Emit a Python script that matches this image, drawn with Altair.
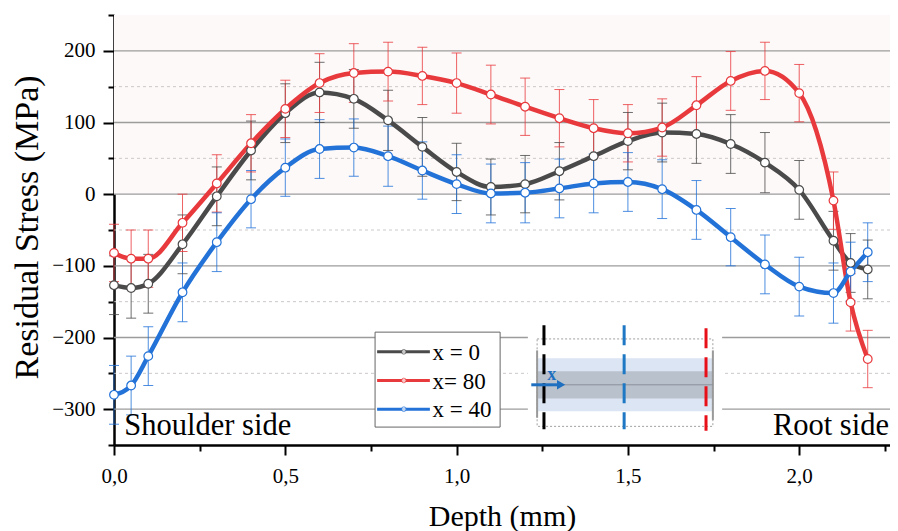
import altair as alt
import pandas as pd

# ---------------- data ----------------
depth = [0.0, 0.05, 0.1, 0.2, 0.3, 0.4, 0.5, 0.6, 0.7, 0.8, 0.9, 1.0, 1.1, 1.2,
         1.3, 1.4, 1.5, 1.6, 1.7, 1.8, 1.9, 2.0, 2.1, 2.15, 2.2]
stress_x0 = [-127, -131, -125, -70, -3, 61, 113, 142, 133, 103, 66, 31, 10, 14,
             32, 53, 74, 86, 84, 70, 44, 6, -65, -96, -105]
stress_x80 = [-82, -90, -90, -40, 15, 71, 119, 155, 169, 171, 165, 155, 139, 122,
              106, 92, 85, 93, 124, 158, 172, 141, -9, -151, -230]
stress_x40 = [-280, -267, -226, -137, -67, -7, 37, 63, 65, 53, 33, 14, 1, 2,
              8, 15, 17, 7, -22, -60, -98, -129, -138, -108, -81]
err_x0 = [41, 42, 41, 41, 41, 41, 41, 42, 41, 42, 41, 40, 39, 40,
          40, 40, 40, 41, 41, 41, 42, 41, 41, 41, 41]
err_x80 = [40, 40, 40, 40, 40, 40, 40, 41, 41, 41, 40, 42, 41, 40,
           40, 40, 40, 40, 40, 41, 40, 40, 40, 40, 40]
err_x40 = [41, 41, 41, 41, 41, 40, 40, 41, 40, 42, 40, 41, 41, 42,
           41, 41, 41, 41, 41, 40, 41, 41, 42, 41, 41]

series_names = ["x = 0", "x= 80", "x = 40"]
series_colors = ["#4a4a4a", "#e8393d", "#2272d8"]
err_colors = ["#858585", "#eb959a", "#8fb2e2"]

x_ticks = [0.0, 0.25, 0.5, 0.75, 1.0, 1.25, 1.5, 1.75, 2.0, 2.25]
y_ticks = [-350, -300, -250, -200, -150, -100, -50, 0, 50, 100, 150, 200, 250]
grid_major = [-300, -200, -100, 0, 100, 200]
grid_minor = [-250, -150, -50, 50, 150]

# ---------------- layout (positions in data units) ----------------
X_DOMAIN = [0, 2.265]
Y_DOMAIN = [-350, 250]
FONT = "Liberation Serif"

rows = []
for name, vals, errs in zip(series_names, [stress_x0, stress_x80, stress_x40],
                            [err_x0, err_x80, err_x40]):
    for d, v, e in zip(depth, vals, errs):
        rows.append({"depth": d, "stress": v, "lo": v - e, "hi": v + e, "series": name})
df = pd.DataFrame(rows)

xs = alt.Scale(domain=X_DOMAIN, nice=False, zero=False)
ys = alt.Scale(domain=Y_DOMAIN, nice=False, zero=False)

x_axis = alt.Axis(
    values=x_ticks,
    labelExpr="datum.value % 0.5 === 0 ? replace(format(datum.value, '.1f'), '.', ',') : ''",
    tickSize={"condition": {"test": "datum.value % 0.5 === 0", "value": 10}, "value": 6},
    title="Depth (mm)", grid=False, domainColor="black", domainWidth=2.5,
    tickColor="black", tickWidth=2, labelFont=FONT, labelFontSize=21,
    labelColor="black", labelPadding=10, labelFlush=False,
    titleFont=FONT, titleFontSize=30, titleFontWeight="normal",
    titleColor="black", titlePadding=15,
)
y_axis = alt.Axis(
    values=y_ticks,
    labelExpr="(datum.value % 100 === 0 && datum.value >= -300 && datum.value <= 200) ? replace(format(datum.value, 'd'), '-', '\u2212') : ''",
    tickSize={"condition": {"test": "datum.value % 100 === 0", "value": 11}, "value": 6},
    title="Residual Stress (MPa)", grid=False, domainColor="black", domainWidth=2.5,
    tickColor="black", tickWidth=2, labelFont=FONT, labelFontSize=21,
    labelColor="black", labelPadding=8, labelFlush=False,
    titleFont=FONT, titleFontSize=34, titleFontWeight="normal",
    titleColor="black", titlePadding=7, titleY=212,
)


def X(field):
    return alt.X(field, type="quantitative", scale=xs, axis=x_axis)


def Y(field):
    return alt.Y(field, type="quantitative", scale=ys, axis=y_axis)


color_scale = alt.Scale(domain=series_names, range=series_colors)
err_scale = alt.Scale(domain=series_names, range=err_colors)

# background tint above zero
pink = alt.Chart(pd.DataFrame({"x0": [X_DOMAIN[0]], "x1": [X_DOMAIN[1]], "y0": [0], "y1": [Y_DOMAIN[1]]})).mark_rect(
    color="#fdf9f8").encode(x=X("x0"), x2="x1", y=Y("y0"), y2="y1")

grid1 = alt.Chart(pd.DataFrame({"g": grid_major})).mark_rule(
    color="#9c9c9c", strokeWidth=1.3).encode(y=Y("g"))
grid2 = alt.Chart(pd.DataFrame({"g": grid_minor})).mark_rule(
    color="#cdc8c8", strokeWidth=1, strokeDash=[3, 3]).encode(y=Y("g"))

# legend box
leg_box = alt.Chart(pd.DataFrame({"x0": [0.762], "x1": [1.127], "y0": [-192.5], "y1": [-325]})).mark_rect(
    fill="white", stroke="#666666", strokeWidth=1).encode(x=X("x0"), x2="x1", y=Y("y0"), y2="y1")
leg_df = pd.DataFrame({"series": series_names, "ly": [-220, -260, -300],
                       "lx0": [0.768] * 3, "lx1": [0.922] * 3, "lxc": [0.846] * 3, "lxt": [0.930] * 3})
leg_line = alt.Chart(leg_df).mark_rule(strokeWidth=3).encode(
    x=X("lx0"), x2="lx1", y=Y("ly"), color=alt.Color("series:N", scale=color_scale, legend=None))
leg_pt = alt.Chart(leg_df).mark_point(filled=True, fill="white", size=22, strokeWidth=1, shape="circle").encode(
    x=X("lxc"), y=Y("ly"), stroke=alt.Color("series:N", scale=color_scale, legend=None))
leg_txt = alt.Chart(leg_df).mark_text(font=FONT, fontSize=23, align="left", baseline="middle", color="black", dy=1).encode(
    x=X("lxt"), y=Y("ly"), text="series:N")

# inset diagram
inset_bg = alt.Chart(pd.DataFrame({"x0": [1.208], "x1": [1.775], "y0": [-175], "y1": [-343]})).mark_rect(
    fill="white").encode(x=X("x0"), x2="x1", y=Y("y0"), y2="y1")
band_l = alt.Chart(pd.DataFrame({"x0": [1.235], "x1": [1.748], "y0": [-229], "y1": [-303]})).mark_rect(
    fill="#dce5f3").encode(x=X("x0"), x2="x1", y=Y("y0"), y2="y1")
band_d = alt.Chart(pd.DataFrame({"x0": [1.235], "x1": [1.748], "y0": [-247], "y1": [-285]})).mark_rect(
    fill="#b9c1cd").encode(x=X("x0"), x2="x1", y=Y("y0"), y2="y1")
frame = alt.Chart(pd.DataFrame({"x0": [1.235], "x1": [1.748], "y0": [-202], "y1": [-324]})).mark_rect(
    fill=None, stroke="#a0a0a0", strokeWidth=1, strokeDash=[2, 2]).encode(x=X("x0"), x2="x1", y=Y("y0"), y2="y1")
edges = alt.Chart(pd.DataFrame({"ex": [1.235, 1.748], "y0": [-218, -218], "y1": [-312, -315]})).mark_rule(
    color="#9a9a9a", strokeWidth=2).encode(x=X("ex"), y=Y("y0"), y2="y1")
center = alt.Chart(pd.DataFrame({"x0": [1.235], "x1": [1.748], "cy": [-266]})).mark_rule(
    color="#8a909a", strokeWidth=1).encode(x=X("x0"), x2="x1", y=Y("cy"))
cut_df = pd.DataFrame({"cx": [1.255, 1.489, 1.728], "y0": [-183, -183, -187], "y1": [-328, -328, -330],
                       "c": ["#000000", "#1f78c4", "#e81018"]})
cuts = alt.Chart(cut_df).mark_rule(strokeWidth=3, strokeDash=[20, 9]).encode(
    x=X("cx"), y=Y("y0"), y2="y1", color=alt.Color("c:N", scale=None))
arrow = alt.Chart(pd.DataFrame({"x0": [1.218], "x1": [1.30], "ay": [-266]})).mark_rule(
    color="#1f6fc0", strokeWidth=3).encode(x=X("x0"), x2="x1", y=Y("ay"))
arrow_head = alt.Chart(pd.DataFrame({"hx": [1.305], "ay": [-266]})).mark_point(
    shape="triangle-right", filled=True, color="#1f6fc0", size=90, opacity=1).encode(x=X("hx"), y=Y("ay"))
arrow_lbl = alt.Chart(pd.DataFrame({"tx": [1.278], "ty": [-252], "t": ["x"]})).mark_text(
    font=FONT, fontSize=18, fontWeight="bold", color="#1f6fc0", baseline="middle").encode(
    x=X("tx"), y=Y("ty"), text="t:N")

# data
base = alt.Chart(df)
err_rule = base.mark_rule(strokeWidth=1, opacity=0.8).encode(
    x=X("depth"), y=Y("lo"), y2="hi", color=alt.Color("series:N", scale=err_scale, legend=None))
cap_lo = base.mark_tick(orient="horizontal", size=10, thickness=1, opacity=0.8).encode(
    x=X("depth"), y=Y("lo"), color=alt.Color("series:N", scale=err_scale, legend=None))
cap_hi = base.mark_tick(orient="horizontal", size=10, thickness=1, opacity=0.8).encode(
    x=X("depth"), y=Y("hi"), color=alt.Color("series:N", scale=err_scale, legend=None))
lines = base.mark_line(strokeWidth=4.5, interpolate="monotone").encode(
    x=X("depth"), y=Y("stress"), color=alt.Color("series:N", scale=color_scale, legend=None),
    detail="series:N")
points = base.mark_point(filled=True, fill="white", size=75, strokeWidth=1.2, opacity=1).encode(
    x=X("depth"), y=Y("stress"), stroke=alt.Color("series:N", scale=color_scale, legend=None))

# side labels
side_df = pd.DataFrame({"sx": [0.03], "sy": [-336], "t": ["Shoulder side"]})
side_l = alt.Chart(side_df).mark_text(font=FONT, fontSize=30.5, align="left", baseline="alphabetic", color="black").encode(
    x=X("sx"), y=Y("sy"), text="t:N")
side_r_df = pd.DataFrame({"sx": [X_DOMAIN[1]], "sy": [-336], "t": ["Root side"]})
side_r = alt.Chart(side_r_df).mark_text(font=FONT, fontSize=30.5, align="right", baseline="alphabetic", color="black", dx=-1).encode(
    x=X("sx"), y=Y("sy"), text="t:N")

chart = alt.layer(
    pink, grid1, grid2, leg_box, leg_line, leg_pt, leg_txt,
    inset_bg, band_l, band_d, frame, edges, center, cuts, arrow, arrow_head, arrow_lbl,
    err_rule, cap_lo, cap_hi, lines, points, side_l, side_r,
).properties(
    width=776, height=430,
    autosize=alt.AutoSizeParams(type="none"),
    padding={"left": 106, "top": 7, "right": 0, "bottom": 86},
    background="white",
).configure_view(stroke=None)

chart.save("out.html", embed_options={"renderer": "svg", "actions": False})
